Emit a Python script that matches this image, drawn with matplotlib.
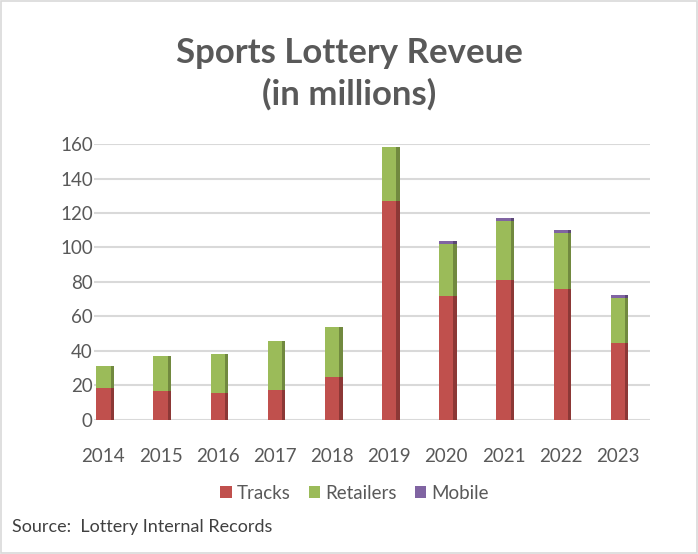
import matplotlib
matplotlib.use("Agg")
import matplotlib.pyplot as plt
from matplotlib.patches import Rectangle
import numpy as np

years = ["2014", "2015", "2016", "2017", "2018", "2019", "2020", "2021", "2022", "2023"]
tracks = [18.5, 16.5, 15.5, 17.5, 25, 127, 72, 81, 76, 44.5]
retailers = [12.5, 20.5, 23, 28, 29, 31, 30, 34.5, 32.5, 26.5]
mobile = [0, 0, 0, 0, 0, 0, 1.5, 1.5, 1.5, 1.3]

colors = {"Tracks": "#C0504D", "Retailers": "#9BBB59", "Mobile": "#8064A2"}
side_colors = {"Tracks": "#8C3836", "Retailers": "#71893F", "Mobile": "#5C4876"}
font = ["Lato", "DejaVu Sans"]
grey = "#595959"

fig = plt.figure(figsize=(6.98, 5.54), dpi=100)
ax = fig.add_axes([0.135, 0.242, 0.796, 0.498])

x = np.arange(len(years))
width = 0.25
side = 0.06
bottom = np.zeros(len(years))
for name, vals in [("Tracks", tracks), ("Retailers", retailers), ("Mobile", mobile)]:
    vals = np.array(vals)
    ax.bar(x + width / 2 + side / 2, vals, side, bottom=bottom, color=side_colors[name], linewidth=0, zorder=2)
    ax.bar(x, vals, width, bottom=bottom, color=colors[name], linewidth=0, zorder=3, label=name)
    bottom = bottom + vals

ax.set_xlim(-0.16, 9.56)
ax.set_ylim(0, 160)
ax.set_yticks(range(0, 161, 20))
ax.set_xticks(x)
ax.set_xticklabels(years)
ax.yaxis.grid(True, color="#D9D9D9", linewidth=1.5, zorder=0)
ax.set_axisbelow(True)
for s in ax.spines.values():
    s.set_visible(False)
ax.tick_params(length=0, labelsize=13.5, labelcolor=grey)
ax.tick_params(axis="x", pad=20)
ax.tick_params(axis="y", pad=1)
for lbl in ax.get_xticklabels() + ax.get_yticklabels():
    lbl.set_family(font)

fig.text(0.5, 0.867, "Sports Lottery Reveue\n(in millions)", ha="center", va="center",
         fontsize=25, fontweight="bold", color=grey, family=font, linespacing=1.35)

leg = fig.legend(loc="center", bbox_to_anchor=(0.508, 0.11), ncol=3, frameon=False,
                 prop={"family": font, "size": 13.5}, handlelength=0.6, handleheight=0.6,
                 handletextpad=0.25, columnspacing=1.0)
for t in leg.get_texts():
    t.set_color(grey)

fig.text(0.017, 0.049, "Source:  Lottery Internal Records", ha="left", va="center",
         fontsize=13, color="#404040", family=font)

fig.patches.append(Rectangle((0.002, 0.002), 0.996, 0.996, transform=fig.transFigure,
                             fill=False, edgecolor="#D9D9D9", linewidth=1.2))

fig.savefig("out.png", dpi=100)
